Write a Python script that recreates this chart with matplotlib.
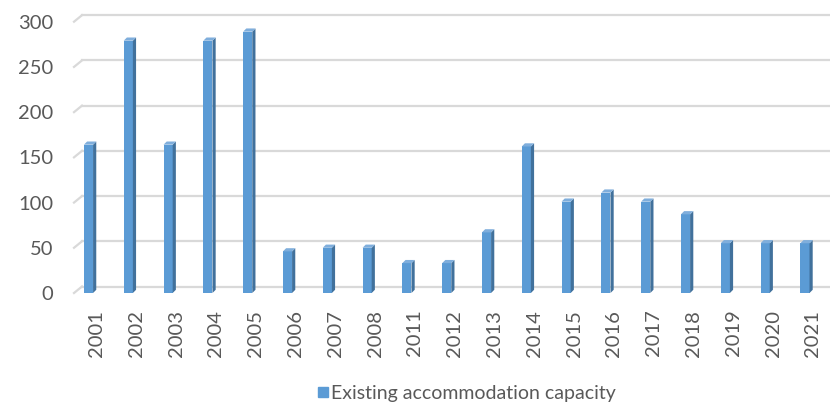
import matplotlib
matplotlib.use("Agg")
import matplotlib.pyplot as plt
import matplotlib.transforms as mtransforms
from matplotlib.patches import Polygon
from matplotlib.lines import Line2D

plt.rcParams["font.family"] = ["Lato", "DejaVu Sans"]
plt.rcParams["xtick.major.size"] = 0
plt.rcParams["ytick.major.size"] = 0
plt.rcParams["xtick.major.pad"] = 12
plt.rcParams["ytick.major.pad"] = 15

years = ["2001", "2002", "2003", "2004", "2005", "2006", "2007", "2008", "2011", "2012",
         "2013", "2014", "2015", "2016", "2017", "2018", "2019", "2020", "2021"]
capacity = [164, 279, 164, 279, 289, 46, 50, 50, 33, 33,
            67, 162, 101, 111, 101, 87, 55, 55, 55]
series_name = "Existing accommodation capacity"
y_ticks = [0, 50, 100, 150, 200, 250, 300]

front = "#5B9BD5"
side = "#41719C"
top = "#7FAEDC"
text_col = "#595959"
grid_col = "#D9D9D9"

W, H = 830, 412
fig = plt.figure(figsize=(W / 100, H / 100), dpi=100)
# axes = front plane of the 3d chart
ax = fig.add_axes([74 / W, 1 - 293 / H, (830 - 74) / W, (293 - 21.7) / H])
ax.set_xlim(-0.364, 18.63)
ax.set_ylim(0, 300)
for s in ax.spines.values():
    s.set_visible(False)

# back-wall gridlines, shifted up and right for depth
depth_x, depth_y = 8, 6.5
back = mtransforms.offset_copy(ax.get_yaxis_transform(), fig=fig, x=depth_x, y=depth_y, units="dots")
diag = mtransforms.blended_transform_factory(ax.transAxes, ax.transData)
for v in y_ticks:
    ax.plot([0, 1], [v, v], color=grid_col, lw=1.6, transform=back, clip_on=False, zorder=0)
    # floor edge from the label up to the wall
    p0 = diag.transform((0, v))
    ax.plot([p0[0], p0[0] + depth_x], [p0[1], p0[1] + depth_y], color=grid_col, lw=1.6,
            transform=None, clip_on=False, zorder=0)

# bars with a thin side and top face
w = 0.23
px_x = 39.8
px_y = 0.904
dx = 3.2 / px_x
dy = 3.2 / px_y
for i, v in enumerate(capacity):
    l, r = i - w / 2, i + w / 2
    ax.bar(i, v, width=w, color=front, zorder=3)
    ax.add_patch(Polygon([(r, 0), (r + dx, dy), (r + dx, v + dy), (r, v)],
                         closed=True, facecolor=side, edgecolor="none", zorder=3))
    ax.add_patch(Polygon([(l, v), (r, v), (r + dx, v + dy), (l + dx, v + dy)],
                         closed=True, facecolor=top, edgecolor="none", zorder=3))

ax.set_yticks(y_ticks)
ax.set_yticklabels([str(t) for t in y_ticks], fontsize=14.5, color=text_col)
ax.set_xticks([i + 0.2 for i in range(len(years))])
ax.set_xticklabels(years, rotation=90, fontsize=14.5, color=text_col)

handle = Line2D([], [], marker="s", linestyle="none", markersize=7,
                markerfacecolor=front, markeredgecolor=front)
fig.legend([handle], [series_name], loc="center", bbox_to_anchor=(466 / W, 1 - 393 / H),
           frameon=False, fontsize=14, labelcolor=text_col, handletextpad=0.05,
           handlelength=0.7)

fig.savefig("out.png", dpi=100)
